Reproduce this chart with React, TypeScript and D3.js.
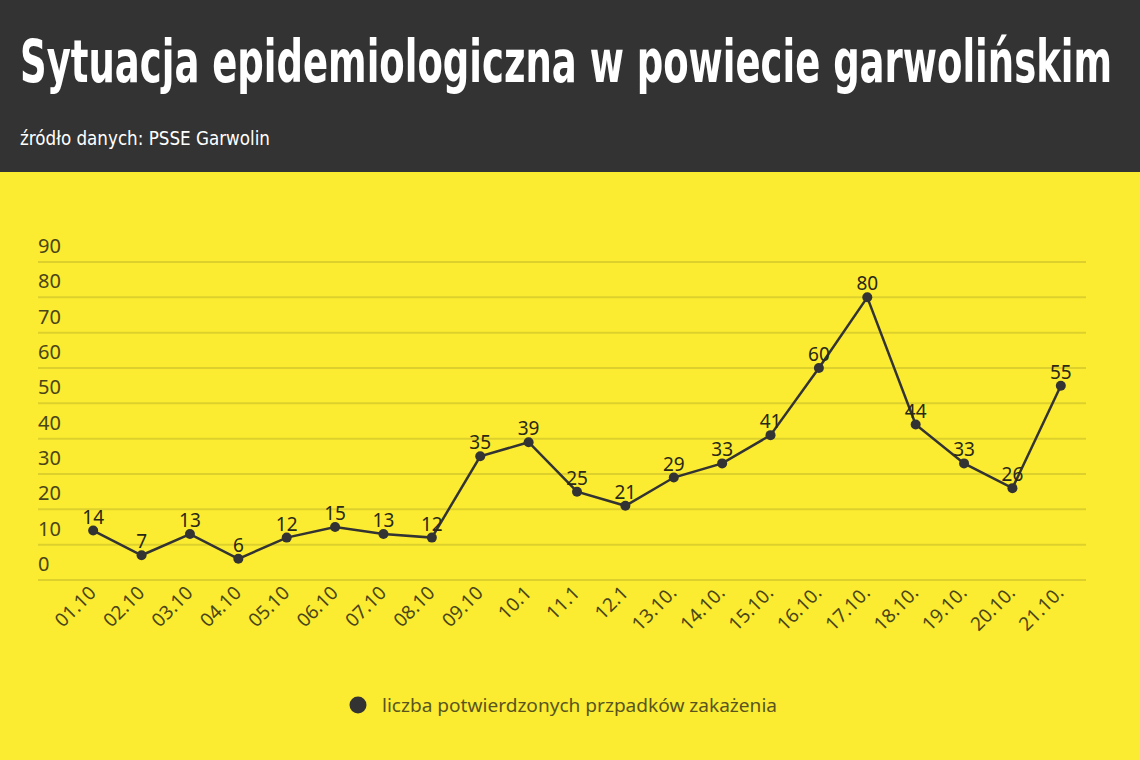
import React from "react";
import * as d3 from "d3";

const categories = ["01.10","02.10","03.10","04.10","05.10","06.10","07.10","08.10","09.10","10.1","11.1","12.1","13.10.","14.10.","15.10.","16.10.","17.10.","18.10.","19.10.","20.10.","21.10."];
const values = [14,7,13,6,12,15,13,12,35,39,25,21,29,33,41,60,80,44,33,26,55];
const yTicks = [0,10,20,30,40,50,60,70,80,90];
const title = "Sytuacja epidemiologiczna w powiecie garwolińskim";
const subtitle = "źródło danych: PSSE Garwolin";
const legendLabel = "liczba potwierdzonych przpadków zakażenia";

const W = 1140, H = 760;
const YELLOW = "#fbec31";
const DARK = "#333333";
const AXIS_TEXT = "#4a4518";
const GRID = "#ddd02c";

export default function App() {
  const x = d3.scaleBand<string>().domain(categories).range([69, 1085]);
  const y = d3.scaleLinear().domain([0, 90]).range([580, 262]);
  const cx = (c: string) => (x(c) as number) + x.bandwidth() / 2;
  const line = d3.line<number>().x((_, i) => cx(categories[i])).y((d) => y(d));
  const sy = 1.45;

  return (
    <div style={{ position: "absolute", left: 0, top: 0 }}>
      <svg width={W} height={H} style={{ display: "block" }}>
        <rect x={0} y={0} width={W} height={H} fill={YELLOW} />
        <rect x={0} y={0} width={W} height={172} fill={DARK} />
        <g transform={`translate(20,82) scale(1,${sy})`}>
          <text x={0} y={0} fill="#ffffff" fontFamily="'Liberation Sans Narrow', 'DejaVu Sans Condensed', sans-serif" fontWeight={700} fontSize={41} textLength={1092} lengthAdjust="spacingAndGlyphs">{title}</text>
        </g>
        <text x={20} y={145} fill="#ffffff" fontFamily="'Liberation Sans Narrow', 'DejaVu Sans Condensed', sans-serif" fontSize={19} textLength={250} lengthAdjust="spacingAndGlyphs">{subtitle}</text>

        {yTicks.map((t) => (
          <g key={t}>
            <line x1={38} x2={1086} y1={y(t)} y2={y(t)} stroke={GRID} strokeWidth={2} />
            <text x={38} y={y(t) - 9} fill={AXIS_TEXT} fontFamily="'Noto Sans', sans-serif" fontSize={20}>{t}</text>
          </g>
        ))}

        {categories.map((c) => (
          <text key={c} transform={`translate(${cx(c) + 4},${594}) rotate(-45)`} textAnchor="end" fill={AXIS_TEXT} fontFamily="'Noto Sans', sans-serif" fontSize={19}>{c}</text>
        ))}

        <path d={line(values) || ""} fill="none" stroke={DARK} strokeWidth={2.5} />
        {values.map((v, i) => (
          <g key={i}>
            <circle cx={cx(categories[i])} cy={y(v)} r={5} fill={DARK} />
            <text x={cx(categories[i])} y={y(v) - 7} textAnchor="middle" fill="#2a2816" fontFamily="'Noto Sans', sans-serif" fontSize={19}>{v}</text>
          </g>
        ))}

        <circle cx={358} cy={705} r={8.5} fill={DARK} />
        <text x={382} y={712} fill="#59541f" fontFamily="'Noto Sans', sans-serif" fontSize={18} textLength={395} lengthAdjust="spacingAndGlyphs">{legendLabel}</text>
      </svg>
    </div>
  );
}
